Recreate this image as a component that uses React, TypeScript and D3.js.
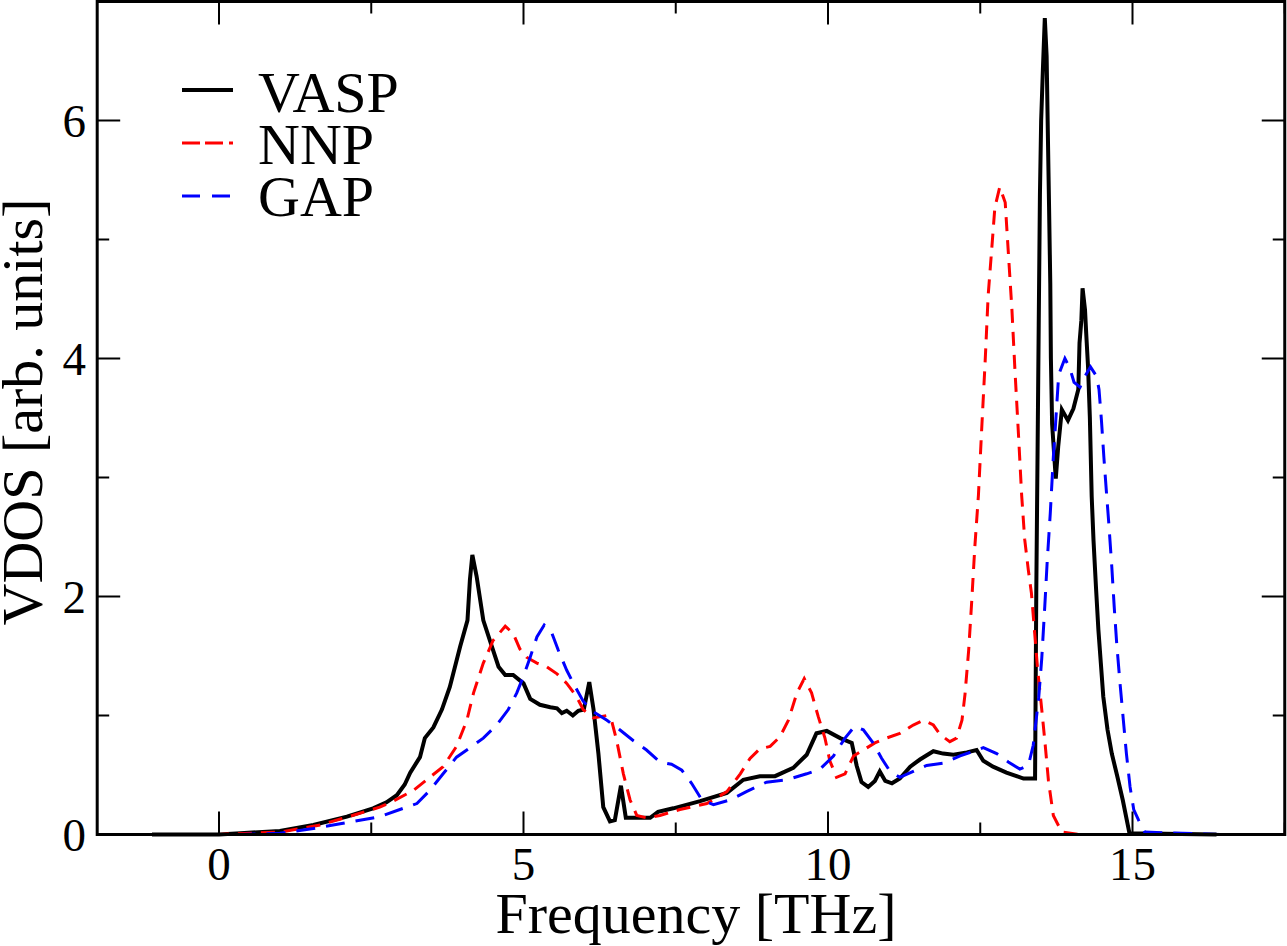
import React from "react";
import * as d3 from "d3";

// VDOS curves: [frequency THz, VDOS]
const vaspData: [number, number][] = [
  [-1.1, 0], [0, 0.0], [0.35, 0.01], [1.0, 0.03], [1.55, 0.08], [2.1, 0.15], [2.53, 0.22], [2.75, 0.27],
  [2.92, 0.33], [3.05, 0.42], [3.14, 0.52], [3.3, 0.65], [3.38, 0.81], [3.52, 0.9], [3.66, 1.05], [3.79, 1.24],
  [3.96, 1.58], [4.08, 1.8], [4.12, 2.14], [4.16, 2.35], [4.23, 2.17], [4.34, 1.8], [4.48, 1.58], [4.59, 1.41],
  [4.7, 1.34], [4.83, 1.34], [5.0, 1.27], [5.11, 1.14], [5.27, 1.09], [5.44, 1.07], [5.55, 1.06], [5.63, 1.02],
  [5.71, 1.04], [5.81, 1.0], [5.9, 1.04], [5.99, 1.05], [6.08, 1.28], [6.15, 1.05], [6.23, 0.68], [6.31, 0.23],
  [6.42, 0.11], [6.5, 0.12], [6.6, 0.41], [6.68, 0.14], [7.08, 0.14], [7.21, 0.19], [7.46, 0.22], [7.9, 0.28],
  [8.34, 0.35], [8.61, 0.46], [8.88, 0.49], [9.13, 0.49], [9.43, 0.56], [9.65, 0.67], [9.81, 0.85], [9.98, 0.87],
  [10.2, 0.81], [10.39, 0.77], [10.47, 0.58], [10.55, 0.44], [10.66, 0.4], [10.77, 0.45], [10.85, 0.53],
  [10.94, 0.45], [11.05, 0.43], [11.18, 0.47], [11.35, 0.57], [11.51, 0.63], [11.73, 0.7], [11.89, 0.68],
  [12.06, 0.67], [12.28, 0.69], [12.44, 0.71], [12.55, 0.62], [12.71, 0.57], [12.93, 0.52], [13.21, 0.47],
  [13.4, 0.47], [13.42, 2.03], [13.44, 3.15], [13.46, 4.28], [13.48, 5.38], [13.5, 6.0], [13.53, 6.45],
  [13.56, 6.86], [13.59, 6.54], [13.61, 5.89], [13.63, 5.27], [13.65, 4.63], [13.66, 4.0], [13.68, 3.45],
  [13.74, 2.99], [13.78, 3.26], [13.84, 3.57], [13.94, 3.48], [14.03, 3.58], [14.11, 3.74], [14.13, 4.13],
  [14.16, 4.32], [14.18, 4.59], [14.22, 4.41], [14.24, 4.21], [14.27, 3.93], [14.3, 3.5], [14.33, 2.84],
  [14.36, 2.47], [14.4, 2.08], [14.44, 1.72], [14.48, 1.44], [14.52, 1.16], [14.59, 0.88], [14.66, 0.68],
  [14.75, 0.49], [14.84, 0.29], [14.95, 0.01], [16.38, 0],
];

const nnpData: [number, number][] = [
  [-1.2, 0], [0, 0.0], [1.0, 0.02], [1.66, 0.08], [2.26, 0.17], [2.64, 0.23], [2.86, 0.28], [3.19, 0.37],
  [3.46, 0.48], [3.68, 0.57], [3.9, 0.74], [4.07, 0.96], [4.18, 1.19], [4.34, 1.44], [4.5, 1.63], [4.7, 1.75],
  [4.83, 1.69], [4.94, 1.56], [5.05, 1.49], [5.22, 1.44], [5.38, 1.41], [5.55, 1.35], [5.71, 1.27], [5.87, 1.16],
  [5.98, 1.05], [6.15, 0.98], [6.37, 1.0], [6.45, 0.95], [6.53, 0.79], [6.64, 0.51], [6.75, 0.29], [6.86, 0.16],
  [7.02, 0.14], [7.24, 0.16], [7.57, 0.21], [8.01, 0.26], [8.34, 0.36], [8.56, 0.51], [8.72, 0.64], [8.88, 0.72],
  [9.05, 0.74], [9.21, 0.82], [9.35, 0.96], [9.49, 1.19], [9.61, 1.31], [9.73, 1.19], [9.84, 0.99], [9.95, 0.81],
  [10.03, 0.62], [10.14, 0.48], [10.28, 0.51], [10.42, 0.66], [10.58, 0.71], [10.77, 0.77], [10.96, 0.81],
  [11.18, 0.85], [11.4, 0.92], [11.57, 0.96], [11.73, 0.92], [11.84, 0.84], [12.0, 0.78], [12.11, 0.81],
  [12.2, 0.96], [12.25, 1.18], [12.31, 1.55], [12.36, 1.96], [12.41, 2.41], [12.47, 2.85], [12.52, 3.37],
  [12.58, 3.97], [12.63, 4.53], [12.69, 4.93], [12.74, 5.27], [12.82, 5.44], [12.91, 5.31], [12.96, 4.9],
  [13.02, 4.41], [13.07, 3.9], [13.13, 3.34], [13.18, 2.85], [13.23, 2.48], [13.29, 2.22], [13.34, 2.03],
  [13.38, 1.78], [13.44, 1.4], [13.51, 1.05], [13.56, 0.79], [13.62, 0.45], [13.7, 0.16], [13.84, 0.02],
  [14.14, 0.0], [14.88, 0],
];

const gapData: [number, number][] = [
  [-1.19, 0], [0.34, 0], [1.0, 0.01], [1.55, 0.05], [1.99, 0.09], [2.43, 0.13], [2.64, 0.15], [2.97, 0.21],
  [3.25, 0.26], [3.46, 0.37], [3.68, 0.51], [3.9, 0.65], [4.15, 0.74], [4.34, 0.81], [4.56, 0.92], [4.75, 1.05],
  [4.89, 1.19], [5.0, 1.33], [5.11, 1.49], [5.22, 1.66], [5.34, 1.76], [5.46, 1.7], [5.57, 1.55], [5.71, 1.38],
  [5.85, 1.24], [5.98, 1.12], [6.15, 1.03], [6.37, 0.96], [6.58, 0.88], [6.8, 0.79], [7.02, 0.71], [7.24, 0.61],
  [7.43, 0.59], [7.6, 0.54], [7.76, 0.43], [7.93, 0.29], [8.12, 0.25], [8.39, 0.29], [8.66, 0.36], [8.99, 0.44],
  [9.32, 0.46], [9.65, 0.51], [9.87, 0.55], [10.09, 0.66], [10.28, 0.81], [10.44, 0.91], [10.58, 0.88],
  [10.74, 0.77], [10.88, 0.64], [11.02, 0.53], [11.18, 0.48], [11.4, 0.53], [11.62, 0.58], [11.89, 0.6],
  [12.17, 0.66], [12.39, 0.7], [12.55, 0.73], [12.77, 0.68], [12.96, 0.61], [13.15, 0.55], [13.29, 0.58],
  [13.37, 0.75], [13.46, 1.15], [13.51, 1.48], [13.56, 1.92], [13.6, 2.3], [13.65, 2.7], [13.7, 3.17],
  [13.73, 3.4], [13.78, 3.8], [13.8, 3.88], [13.89, 4.0], [13.97, 3.92], [14.04, 3.8], [14.14, 3.76],
  [14.22, 3.85], [14.31, 3.93], [14.41, 3.85], [14.45, 3.74], [14.49, 3.48], [14.53, 3.17], [14.57, 2.89],
  [14.61, 2.62], [14.66, 2.25], [14.7, 1.91], [14.74, 1.61], [14.79, 1.3], [14.85, 0.96], [14.9, 0.68],
  [14.96, 0.4], [15.02, 0.21], [15.1, 0.12], [15.2, 0.02], [16.44, 0],
];

const seriesNames = ["VASP", "NNP", "GAP"];
const xMajorTicks = [0, 5, 10, 15];
const xMinorTicks = [2.5, 7.5, 12.5, 17.5];
const yMajorTicks = [0, 2, 4, 6];
const yMinorTicks = [1, 3, 5, 7];

const FONT = "'Liberation Serif', 'Times New Roman', serif";

export default function App() {
  const x = d3.scaleLinear().domain([-2, 17.5]).range([97.2, 1284.75]);
  const y = d3.scaleLinear().domain([0, 7]).range([834.5, 1.5]);
  const line = d3
    .line<[number, number]>()
    .x((d) => x(d[0]))
    .y((d) => y(d[1]));

  const styles = [
    { data: vaspData, color: "#000000", width: 4, dash: undefined as string | undefined, legendDash: undefined as string | undefined },
    { data: nnpData, color: "#ff0000", width: 3, dash: "14,9", legendDash: "18,5,18,6,4,6" },
    { data: gapData, color: "#0000ff", width: 3, dash: "19,11", legendDash: "18,12" },
  ];

  const [x0, x1] = x.range();
  const [yb, yt] = y.range();
  const major = 23;
  const minor = 12;

  return (
    <svg
      width={1287}
      height={946}
      style={{ position: "absolute", left: 0, top: 0, background: "#fff" }}
      fontFamily={FONT}
    >
      <rect x={0} y={0} width={1287} height={946} fill="#fff" />
      {/* curves */}
      {styles.map((s, i) => (
        <path
          key={i}
          d={line(s.data) || ""}
          fill="none"
          stroke={s.color}
          strokeWidth={s.width}
          strokeDasharray={s.dash}
          strokeLinejoin="miter"
        />
      ))}
      {/* frame */}
      <rect x={x0} y={yt} width={x1 - x0} height={yb - yt} fill="none" stroke="#000" strokeWidth={3} />
      {/* x ticks */}
      {xMajorTicks.map((t) => (
        <g key={"xm" + t}>
          <line x1={x(t)} x2={x(t)} y1={yb} y2={yb - major} stroke="#000" strokeWidth={2} />
          <line x1={x(t)} x2={x(t)} y1={yt} y2={yt + major} stroke="#000" strokeWidth={2} />
          <text x={x(t)} y={880} fontSize={47} textAnchor="middle">
            {t}
          </text>
        </g>
      ))}
      {xMinorTicks.map((t) => (
        <g key={"xn" + t}>
          <line x1={x(t)} x2={x(t)} y1={yb} y2={yb - minor} stroke="#000" strokeWidth={2} />
          <line x1={x(t)} x2={x(t)} y1={yt} y2={yt + minor} stroke="#000" strokeWidth={2} />
        </g>
      ))}
      {/* y ticks */}
      {yMajorTicks.map((t) => (
        <g key={"ym" + t}>
          <line x1={x0} x2={x0 + major} y1={y(t)} y2={y(t)} stroke="#000" strokeWidth={2} />
          <line x1={x1} x2={x1 - major} y1={y(t)} y2={y(t)} stroke="#000" strokeWidth={2} />
          <text x={86} y={y(t) + 16} fontSize={47} textAnchor="end">
            {t}
          </text>
        </g>
      ))}
      {yMinorTicks.map((t) => (
        <g key={"yn" + t}>
          <line x1={x0} x2={x0 + minor} y1={y(t)} y2={y(t)} stroke="#000" strokeWidth={2} />
          <line x1={x1} x2={x1 - minor} y1={y(t)} y2={y(t)} stroke="#000" strokeWidth={2} />
        </g>
      ))}
      {/* axis titles */}
      <text x={696} y={933} fontSize={58} textAnchor="middle">
        Frequency [THz]
      </text>
      <text transform="translate(42,412) rotate(-90)" fontSize={58} textAnchor="middle">
        VDOS [arb. units]
      </text>
      {/* legend */}
      {styles.map((s, i) => (
        <g key={"lg" + i}>
          <line
            x1={182}
            x2={233}
            y1={90 + i * 53}
            y2={90 + i * 53}
            stroke={s.color}
            strokeWidth={s.width}
            strokeDasharray={s.legendDash}
          />
          <text x={258} y={112 + i * 52} fontSize={58}>
            {seriesNames[i]}
          </text>
        </g>
      ))}
    </svg>
  );
}
